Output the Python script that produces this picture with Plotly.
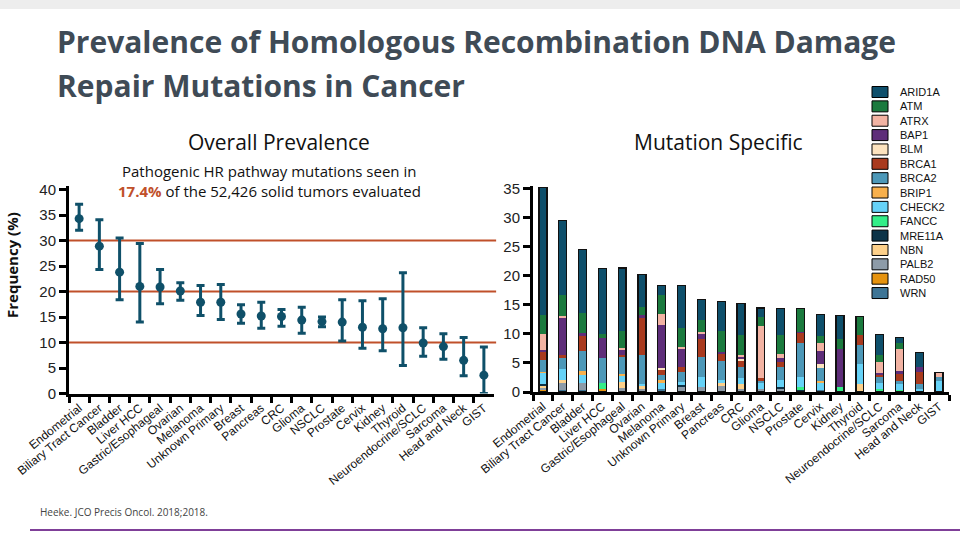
import plotly.graph_objects as go
import numpy as np

# ---------------- data ----------------
categories = ["Endometrial", "Biliary Tract Cancer", "Bladder", "Liver HCC", "Gastric/Esophageal",
              "Ovarian", "Melanoma", "Unknown Primary", "Breast", "Pancreas", "CRC", "Glioma",
              "NSCLC", "Prostate", "Cervix", "Kidney", "Thyroid", "Neuroendocrine/SCLC",
              "Sarcoma", "Head and Neck", "GIST"]

prevalence = [34.3, 28.9, 23.8, 21.0, 20.9, 20.1, 17.9, 17.9, 15.6, 15.2, 15.1, 14.4, 14.1, 14.0,
              13.0, 12.7, 12.9, 9.9, 9.2, 6.5, 3.6]
ci_upper = [37.1, 34.1, 30.5, 29.4, 24.3, 21.7, 21.2, 21.4, 17.4, 17.9, 16.5, 16.9, 15.0, 18.4,
            18.2, 18.6, 23.7, 12.9, 11.7, 11.0, 9.1]
ci_lower = [32.0, 24.3, 18.4, 14.0, 17.6, 18.3, 15.3, 14.5, 13.8, 12.8, 13.2, 11.8, 13.1, 10.3,
            8.9, 8.4, 5.5, 7.3, 6.7, 3.5, 0.0]
ref_lines = [10, 20, 30]

genes = ["ARID1A", "ATM", "ATRX", "BAP1", "BLM", "BRCA1", "BRCA2", "BRIP1", "CHECK2", "FANCC",
         "MRE11A", "NBN", "PALB2", "RAD50", "WRN"]
gene_colors = ["#0E4F6B", "#1B7A3E", "#F2B3A3", "#5E2D79", "#FCE3BF", "#A93A1E", "#4D98B8",
               "#F8B04C", "#66D2F7", "#33EE88", "#0C3348", "#FDD08A", "#8D9BA8", "#E6930F", "#3E7596"]

arid1a = [22.1, 12.9, 10.9, 11.3, 10.9, 5.6, 1.6, 7.2, 3.5, 5.1, 5.4, 1.5, 4.5, 0, 3.8, 4.1, 0, 3.5, 1.0, 2.5, 0]
atm    = [3.2, 3.6, 3.5, 0.7, 2.8, 1.4, 3.4, 3.3, 2.0, 3.6, 3.5, 1.7, 3.4, 4.0, 1.2, 1.7, 3.1, 1.3, 1.0, 0, 0]
atrx   = [2.7, 0.4, 0, 0, 0.3, 0, 1.9, 0.4, 0.4, 0, 0.4, 8.9, 0.7, 0, 1.4, 0, 0, 1.9, 3.7, 0, 0.9]
bap1   = [0.4, 6.3, 0.6, 3.5, 0.9, 0.3, 7.4, 3.1, 0.9, 0.2, 0.3, 0, 0.7, 0.2, 2.2, 6.6, 0, 0.2, 0.6, 0.8, 0]
blm    = [0, 0, 0, 0, 0, 0, 0.3, 0, 0, 0, 0.3, 0, 0, 0, 0.6, 0, 0, 0, 0, 0, 0]
brca1  = [1.3, 0.5, 2.6, 0, 0.4, 6.6, 0.8, 0.9, 3.0, 1.3, 1.1, 0.5, 0.8, 1.7, 0, 0, 1.8, 0.5, 1.2, 2.1, 0]
brca2  = [2.1, 2.0, 3.4, 4.3, 3.0, 4.9, 0.9, 1.6, 3.6, 3.3, 1.9, 0.4, 2.2, 6.0, 2.3, 0, 3.3, 0.9, 0.6, 0.9, 0.6]
brip1  = [0.1, 0, 0.6, 0, 0.2, 0, 0.6, 0, 0, 0, 0, 0, 0, 0, 0.3, 0, 0, 0, 0, 0, 0]
check2 = [2.1, 1.9, 1.4, 0, 1.1, 0.4, 1.0, 0.6, 1.7, 0.6, 1.1, 1.0, 1.2, 1.7, 1.3, 0, 3.4, 1.0, 1.0, 0.5, 1.9]
fancc  = [0, 0, 0, 1.0, 0, 0, 0, 0, 0, 0, 0, 0, 0, 0.3, 0, 0.6, 0, 0.3, 0.3, 0, 0]
mre11a = [0.2, 0, 0, 0, 0, 0, 0, 0.4, 0, 0, 0, 0, 0.4, 0.5, 0, 0, 0, 0.3, 0, 0, 0]
nbn    = [0.4, 0.5, 0, 0, 1.0, 0.4, 0, 0, 0, 0.3, 0.7, 0, 0, 0, 0, 0, 1.4, 0, 0, 0, 0]
palb2  = [0.2, 1.1, 1.3, 0, 0.75, 0.4, 0, 0.8, 0.8, 1.2, 0.6, 0.5, 0.5, 0, 0, 0.2, 0, 0, 0, 0, 0]
rad50  = [0.3, 0, 0, 0.5, 0, 0, 0, 0, 0, 0, 0, 0, 0, 0, 0, 0, 0, 0, 0, 0, 0]
wrn    = [0.2, 0.4, 0.3, 0, 0, 0.2, 0.5, 0, 0, 0, 0, 0, 0, 0, 0.3, 0, 0, 0, 0, 0, 0]

gene_series = [arid1a, atm, atrx, bap1, blm, brca1, brca2, brip1, check2, fancc, mre11a, nbn,
               palb2, rad50, wrn]

# ---------------- figure ----------------
W, H = 960, 540
TEAL = "#0F5069"
RED = "#C0502A"
FONT = "Open Sans"


def px(x):
    return x / W


def py(y):
    return 1 - y / H


fig = go.Figure()

prev = np.array(prevalence)
err_plus = np.array(ci_upper) - prev
err_minus = prev - np.array(ci_lower)

fig.add_trace(go.Scatter(
    x=categories, y=prevalence, mode="markers",
    marker=dict(color=TEAL, size=9),
    error_y=dict(type="data", array=err_plus, arrayminus=err_minus, color=TEAL,
                 thickness=3, width=4),
    xaxis="x", yaxis="y", showlegend=False, cliponaxis=False))

# stacked bars: bottom of the stack is the last gene in the legend
for gene, color, vals in reversed(list(zip(genes, gene_colors, gene_series))):
    fig.add_trace(go.Bar(
        x=categories, y=[v if v > 0 else None for v in vals], name=gene,
        marker=dict(color=color, line=dict(width=0)),
        xaxis="x2", yaxis="y2", showlegend=False))

totals = np.sum(np.array(gene_series), axis=0)
fig.add_trace(go.Bar(
    x=categories, y=totals, marker=dict(color="rgba(0,0,0,0)", line=dict(color="#111", width=1.3)),
    xaxis="x3", yaxis="y3", showlegend=False, hoverinfo="skip"))

tickfont_x = dict(family="Liberation Sans", size=12, color="#111")
tickfont_y = dict(family="Liberation Sans", size=15, color="#222")

common_x = dict(type="category", categoryorder="array", categoryarray=categories,
                range=[-0.5, len(categories) - 0.5], showline=True, linecolor="black",
                linewidth=3, ticks="outside", tickson="boundaries", ticklen=6, tickwidth=3,
                tickcolor="black", tickangle=-39, tickfont=tickfont_x, showgrid=False,
                zeroline=False, automargin=False)
common_y = dict(showline=True, linecolor="black", linewidth=3, ticks="outside", ticklen=7,
                tickwidth=3, tickcolor="black", tickfont=tickfont_y, showgrid=False,
                zeroline=False, automargin=False)

left_y_dom = [py(393.5), py(186)]
right_y_dom = [py(392), py(186)]

fig.update_layout(
    width=W, height=H, margin=dict(l=0, r=0, t=0, b=0),
    paper_bgcolor="white", plot_bgcolor="white",
    barmode="stack", bargap=0.6,
    xaxis=dict(common_x, domain=[px(69), px(494)], anchor="y"),
    yaxis=dict(common_y, domain=left_y_dom, anchor="x", range=[0, 40.7],
               tickvals=list(range(0, 41, 5))),
    xaxis2=dict(common_x, domain=[px(533), px(949)], anchor="y2"),
    yaxis2=dict(common_y, domain=right_y_dom, anchor="x2", range=[0, 35.5],
                tickvals=list(range(0, 36, 5))),
    xaxis3=dict(type="category", categoryorder="array", categoryarray=categories,
                range=[-0.5, len(categories) - 0.5], overlaying="x2", anchor="y3",
                visible=False),
    yaxis3=dict(overlaying="y2", anchor="x3", range=[0, 35.5], visible=False),
    showlegend=False,
)

shapes = []
# reference lines on the left chart
for v in ref_lines:
    shapes.append(dict(type="line", xref="x domain", yref="y", x0=0, x1=1.005, y0=v, y1=v,
                       line=dict(color=RED, width=2), layer="below"))
# header band
shapes.append(dict(type="rect", xref="paper", yref="paper", x0=0, x1=1, y0=py(9), y1=1,
                   fillcolor="#EDEDED", line=dict(width=0), layer="below"))
# footer purple line
shapes.append(dict(type="line", xref="paper", yref="paper", x0=px(30), x1=1, y0=py(530), y1=py(530),
                   line=dict(color="#7F3F98", width=2)))

annotations = []
# legend (manual)
for i, (gene, color) in enumerate(zip(genes, gene_colors)):
    yc = 92 + i * 14.36
    shapes.append(dict(type="rect", xref="paper", yref="paper", x0=px(872), x1=px(888),
                       y0=py(yc + 5.5), y1=py(yc - 5.5), fillcolor=color,
                       line=dict(color="black", width=1)))
    annotations.append(dict(text=gene, xref="paper", yref="paper", x=px(898), y=py(yc),
                            xanchor="left", yanchor="middle", showarrow=False,
                            font=dict(family="Liberation Sans", size=11, color="#111")))

annotations += [
    dict(text="<b>Prevalence of Homologous Recombination DNA Damage</b>", xref="paper", yref="paper",
         x=px(55), y=py(42), xanchor="left", yanchor="middle", showarrow=False,
         font=dict(family=FONT, size=30, color="#3F4B56")),
    dict(text="<b>Repair Mutations in Cancer</b>", xref="paper", yref="paper",
         x=px(55), y=py(86), xanchor="left", yanchor="middle", showarrow=False,
         font=dict(family=FONT, size=30, color="#3F4B56")),
    dict(text="Overall Prevalence", xref="paper", yref="paper", x=px(279), y=py(142),
         xanchor="center", yanchor="middle", showarrow=False,
         font=dict(family=FONT, size=21, color="#111")),
    dict(text="Mutation Specific", xref="paper", yref="paper", x=px(718), y=py(142),
         xanchor="center", yanchor="middle", showarrow=False,
         font=dict(family=FONT, size=21, color="#111")),
    dict(text="Pathogenic HR pathway mutations seen in", xref="paper", yref="paper",
         x=px(269), y=py(171), xanchor="center", yanchor="middle", showarrow=False,
         font=dict(family=FONT, size=15, color="#111")),
    dict(text=f"<b><span style='color:{RED}'>17.4%</span></b> of the 52,426 solid tumors evaluated",
         xref="paper", yref="paper", x=px(269), y=py(191), xanchor="center", yanchor="middle",
         showarrow=False, font=dict(family=FONT, size=15, color="#111")),
    dict(text="<b>Frequency (%)</b>", xref="paper", yref="paper", x=px(12), y=py(265),
         xanchor="center", yanchor="middle", textangle=-90, showarrow=False,
         font=dict(family=FONT, size=15, color="#111")),
    dict(text="Heeke. JCO Precis Oncol. 2018;2018.", xref="paper", yref="paper",
         x=px(38), y=py(512), xanchor="left", yanchor="middle", showarrow=False,
         font=dict(family=FONT, size=10, color="#444")),
]

fig.update_layout(shapes=shapes, annotations=annotations)
fig.write_html("out.html")
